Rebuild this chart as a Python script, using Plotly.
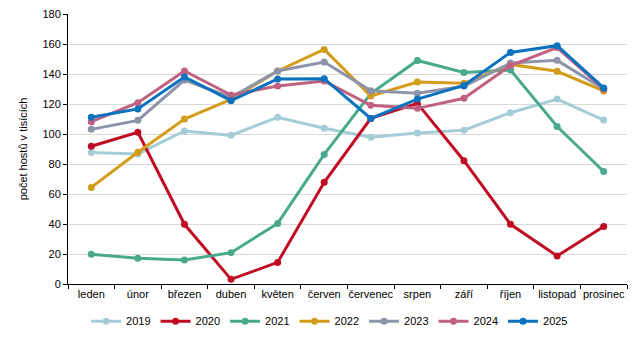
import plotly.graph_objects as go

months = ["leden", "únor", "březen", "duben", "květen", "červen", "červenec",
          "srpen", "září", "říjen", "listopad", "prosinec"]

y2019 = [87.6, 86.7, 102, 99.1, 111.1, 103.8, 97.8, 100.7, 102.5, 114.2, 123.3, 109.3]
y2020 = [91.8, 101.1, 39.8, 3.1, 14.4, 67.8, 110.4, 120.4, 82.2, 39.8, 18.7, 38.4]
y2021 = [19.8, 17.1, 16.0, 20.9, 40.4, 86.4, 127, 149, 141, 142.7, 105, 75]
y2022 = [64.4, 87.8, 110, 123, 142, 156.4, 125.3, 134.7, 133.8, 146.4, 141.8, 128.7]
y2023 = [103.1, 109.1, 136, 124.5, 142, 148, 128.9, 127.1, 131.8, 147.3, 149.1, 130]
y2024 = [108.2, 120.9, 142, 126, 132, 135.3, 119.1, 117.1, 123.8, 145.6, 157.6, 130]
y2025 = [111.1, 116.7, 138, 122.2, 136.7, 136.9, 110.4, 123.3, 132.4, 154.4, 158.9, 130.7]

series = [
    ("2019", y2019, "#a5cdd8"),
    ("2020", y2020, "#c00d23"),
    ("2021", y2021, "#48a98c"),
    ("2022", y2022, "#d39d1a"),
    ("2023", y2023, "#8d93a8"),
    ("2024", y2024, "#c06182"),
    ("2025", y2025, "#0a72bf"),
]

fig = go.Figure()
for name, vals, col in series:
    fig.add_trace(go.Scatter(
        x=months, y=vals, name=name, mode="lines+markers",
        line=dict(color=col, width=3),
        marker=dict(color=col, size=7),
    ))

fig.update_layout(
    width=635, height=331,
    margin=dict(l=60, r=16, t=6, b=55, autoexpand=False),
    paper_bgcolor="white", plot_bgcolor="white",
    font=dict(family="Liberation Sans, Arial, sans-serif", size=11, color="black"),
    showlegend=True,
    legend=dict(orientation="h", x=0.468, xanchor="center",
                yref="container", y=0.054, yanchor="middle",
                font=dict(size=11), itemwidth=30, tracegroupgap=0,
                bgcolor="rgba(0,0,0,0)"),
    xaxis=dict(
        showline=True, linecolor="black", linewidth=1,
        ticks="outside", tickson="boundaries", ticklen=4, tickcolor="black",
        showgrid=False, tickfont=dict(size=11), tickangle=0, automargin=False,
        range=[-0.5, 11.5],
    ),
    yaxis=dict(
        range=[0, 180], dtick=20, ticklabeloverflow="allow",
        showline=True, linecolor="black", linewidth=1,
        ticks="outside", ticklen=4, tickcolor="black",
        showgrid=True, gridcolor="#d9d9d9", gridwidth=1,
        zeroline=False, tickfont=dict(size=11), automargin=False,
        title=dict(text="počet hostů v tisících", font=dict(size=11), standoff=12),
    ),
)

fig.write_html("out.html")
